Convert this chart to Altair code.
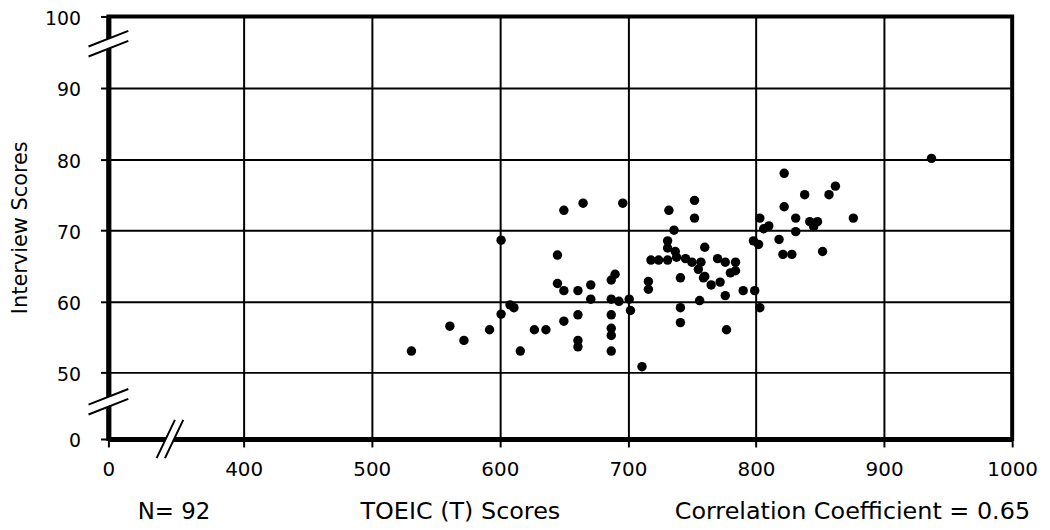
import altair as alt
import pandas as pd

# TOEIC (T) scores and interview scores (N = 92)
toeic = [531, 561, 572, 592, 601, 601, 611, 616, 627, 636,
         645, 645, 650, 661, 650, 665, 650, 661, 661, 661,
         671, 671, 687, 690, 687, 693, 687, 687, 687, 687,
         696, 701, 702, 711, 716, 716, 718, 724, 731, 738,
         745, 750, 736, 731, 731, 737, 732, 752, 752, 741,
         741, 741, 760, 756, 757, 755, 760, 765, 770, 776,
         784, 780, 772, 784, 776, 777, 790, 799, 803, 798,
         802, 803, 810, 818, 821, 828, 822, 822, 831, 831,
         838, 842, 848, 845, 852, 857, 862, 876, 937, 608,
         759, 806]
interview = [53.0, 56.5, 54.5, 56.0, 68.6, 58.2, 59.1, 53.0, 56.0, 56.0,
             66.5, 62.5, 61.5, 61.5, 72.8, 73.8, 57.2, 58.1, 54.5, 53.6,
             62.3, 60.3, 63.0, 63.8, 60.3, 60.0, 58.1, 56.2, 55.2, 53.0,
             73.8, 60.3, 58.7, 50.8, 62.8, 61.7, 65.8, 65.8, 65.8, 66.2,
             66.0, 65.5, 70.0, 68.5, 67.5, 67.0, 72.8, 74.2, 71.7, 63.3,
             59.1, 57.0, 67.6, 60.1, 65.5, 64.5, 63.5, 62.3, 66.0, 65.5,
             65.5, 64.0, 62.7, 64.3, 60.8, 56.0, 61.5, 61.5, 59.1, 68.5,
             68.0, 71.7, 70.6, 68.7, 66.6, 66.6, 78.0, 73.3, 71.7, 69.8,
             75.0, 71.2, 71.2, 70.5, 67.0, 75.0, 76.2, 71.7, 80.1, 59.5,
             63.3, 70.2]

x_ticks = [0, 400, 500, 600, 700, 800, 900, 1000]
y_ticks = [0, 50, 60, 70, 80, 90, 100]

# axis-break positions (in data units)
ybreak_x = [0, 0]
ybreak_y = [96.2, 28]
xbreak_x = [182]
xbreak_y = [0]

FONT = "DejaVu Sans"

df = pd.DataFrame({"toeic": toeic, "interview": interview})
dfy = pd.DataFrame({"toeic": ybreak_x, "interview": ybreak_y})
dfx = pd.DataFrame({"toeic": xbreak_x, "interview": xbreak_y})

x_scale = alt.Scale(domain=[0, 400, 1000], range=[0, 136, 909], nice=False, zero=False)
y_scale = alt.Scale(domain=[0, 50, 90, 100], range=[425, 358, 72, 0], nice=False, zero=False)

x_axis = alt.Axis(values=x_ticks, format="d", grid=True, gridColor="black", gridWidth=2,
                  gridOpacity=1, domainColor="black", domainWidth=5, tickColor="black",
                  tickWidth=2, tickSize=8, labelFont=FONT, labelFontSize=20,
                  labelColor="black", labelPadding=13, labelFlush=False,
                  labelOverlap=False, title=None)
y_axis = alt.Axis(values=y_ticks, format="d", grid=True, gridColor="black", gridWidth=2,
                  gridOpacity=1, domainColor="black", domainWidth=5, tickColor="black",
                  tickWidth=2, tickSize=8, labelFont=FONT, labelFontSize=19,
                  labelColor="black", labelPadding=20, labelOffset=2, labelFlush=False,
                  labelOverlap=False,
                  title="Interview Scores", titleFont=FONT, titleFontSize=21,
                  titleFontWeight="normal", titleColor="black", titleAngle=270,
                  titleX=-88, titleY=212, titleAlign="center", titleBaseline="middle")


def enc():
    return dict(x=alt.X("toeic:Q", scale=x_scale, axis=x_axis),
                y=alt.Y("interview:Q", scale=y_scale, axis=y_axis))


points = alt.Chart(df).mark_point(filled=True, shape="circle", size=90,
                                  color="black", opacity=1).encode(**enc())

ybreak_fill = "M-1,0.145L1,-0.64L1,-0.14L-1,0.645Z"
ybreak_lines = "M-1,0.145L1,-0.64M-1,0.645L1,-0.14"
xbreak_fill = "M-0.67,0.96L0.25,-0.96L0.67,-0.96L-0.25,0.96Z"
xbreak_lines = "M-0.67,0.96L0.25,-0.96M-0.25,0.96L0.67,-0.96"

yb_fill = alt.Chart(dfy).mark_point(shape=ybreak_fill, size=1600, filled=True,
                                    fill="white", strokeWidth=0, opacity=1).encode(**enc())
yb_line = alt.Chart(dfy).mark_point(shape=ybreak_lines, size=1600, filled=False,
                                    stroke="black", strokeWidth=2, opacity=1).encode(**enc())
xb_fill = alt.Chart(dfx).mark_point(shape=xbreak_fill, size=1600, filled=True,
                                    fill="white", strokeWidth=0, opacity=1).encode(**enc())
xb_line = alt.Chart(dfx).mark_point(shape=xbreak_lines, size=1600, filled=False,
                                    stroke="black", strokeWidth=2, opacity=1).encode(**enc())

ann = pd.DataFrame({"t": ["N= 92"]})
t1 = alt.Chart(ann).mark_text(font=FONT, fontSize=23, color="black", align="center",
                              baseline="middle").encode(
    text="t:N", x=alt.value(66), y=alt.value(498))
ann2 = pd.DataFrame({"t": ["TOEIC (T) Scores"]})
t2 = alt.Chart(ann2).mark_text(font=FONT, fontSize=24, color="black", align="center",
                               baseline="middle").encode(
    text="t:N", x=alt.value(354), y=alt.value(498))
ann3 = pd.DataFrame({"t": ["Correlation Coefficient = 0.65"]})
t3 = alt.Chart(ann3).mark_text(font=FONT, fontSize=24, color="black", align="right",
                               baseline="middle").encode(
    text="t:N", x=alt.value(927), y=alt.value(498))

chart = alt.layer(points, yb_fill, yb_line, xb_fill, xb_line, t1, t2, t3).properties(
    width=909, height=425,
    autosize=alt.AutoSizeParams(type="none"),
    padding={"left": 101, "top": 7, "right": 30, "bottom": 84},
    background="white",
).configure_view(stroke="black", strokeWidth=4)

chart.save("out.html", embed_options={"renderer": "svg", "actions": False})
